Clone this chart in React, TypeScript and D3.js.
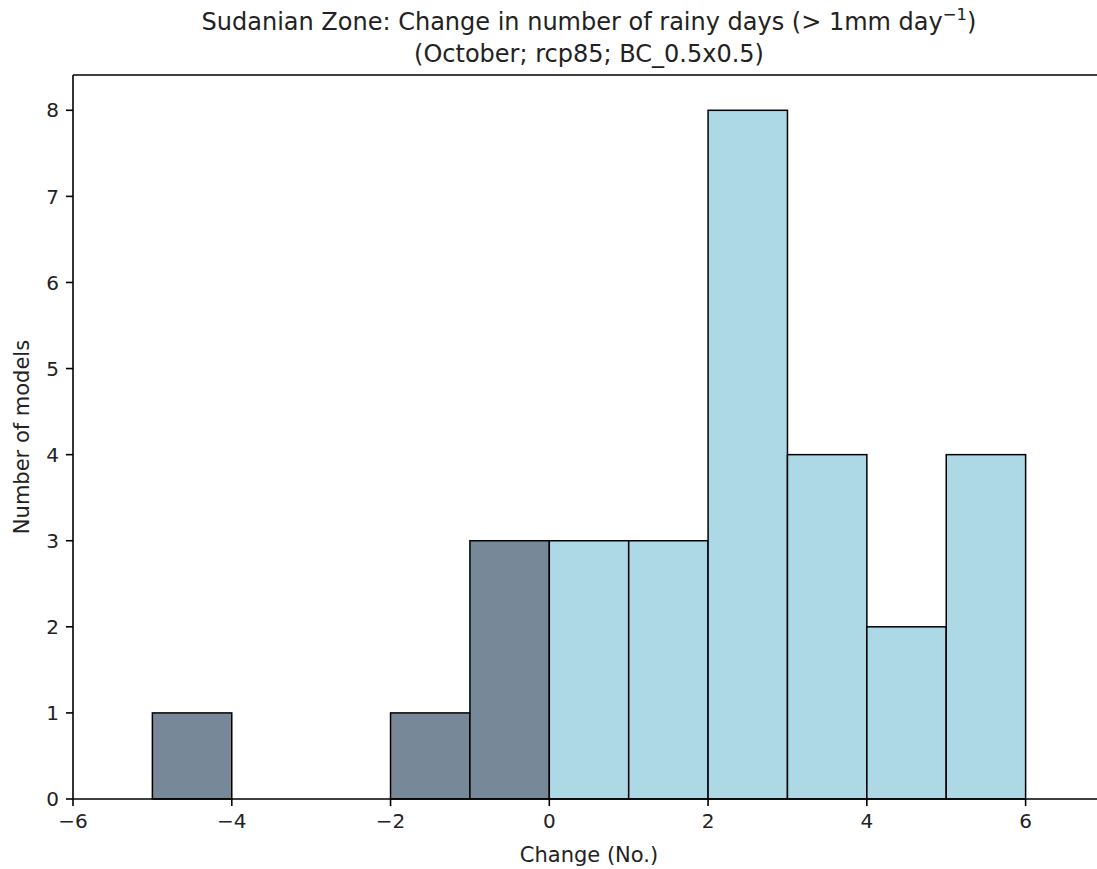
import React from "react";
import * as d3 from "d3";

const binStarts = [-5, -4, -3, -2, -1, 0, 1, 2, 3, 4, 5];
const counts = [1, 0, 0, 1, 3, 3, 3, 8, 4, 2, 4];
const xTicks = [-6, -4, -2, 0, 2, 4, 6];
const yTicks = [0, 1, 2, 3, 4, 5, 6, 7, 8];
const titleLine1 = "Sudanian Zone: Change in number of rainy days (> 1mm day";
const titleLine2 = "(October; rcp85; BC_0.5x0.5)";
const xLabel = "Change (No.)";
const yLabel = "Number of models";

const W = 1097, H = 869;
const L = 73, R = 1105, T = 75, B = 799;
const FONT = "DejaVu Sans, sans-serif";

export default function App() {
  const x = d3.scaleLinear().domain([-6, 7]).range([L, R]);
  const y = d3.scaleLinear().domain([0, 8.41]).range([B, T]);
  const bars = binStarts.map((s, i) => ({ s, c: counts[i] })).filter(d => d.c > 0);
  return (
    <svg width={W} height={H} style={{ position: "absolute", left: 0, top: 0, background: "#fff" }} fontFamily={FONT}>
      <rect x={0} y={0} width={W} height={H} fill="#fff" />
      {bars.map((d, i) => (
        <rect key={i} x={x(d.s)} y={y(d.c)} width={x(d.s + 1) - x(d.s)} height={y(0) - y(d.c)}
          fill={d.s < 0 ? "#778899" : "#ADD8E6"} stroke="#000" strokeWidth={1.5} />
      ))}
      <line x1={L} x2={L} y1={T} y2={B} stroke="#000" strokeWidth={1.6} />
      <line x1={L} x2={R} y1={T} y2={T} stroke="#000" strokeWidth={1.6} />
      <line x1={R} x2={R} y1={T} y2={B} stroke="#000" strokeWidth={1.6} />
      <line x1={L} x2={R} y1={B} y2={B} stroke="#000" strokeWidth={1.6} />
      {xTicks.map(t => (
        <g key={t}>
          <line x1={x(t)} x2={x(t)} y1={B} y2={B + 7} stroke="#000" strokeWidth={1.6} />
          <text x={x(t)} y={B + 29} textAnchor="middle" fontSize={20} fill="#222">{t < 0 ? "\u2212" + Math.abs(t) : t}</text>
        </g>
      ))}
      {yTicks.map(t => (
        <g key={t}>
          <line x1={L - 7} x2={L} y1={y(t)} y2={y(t)} stroke="#000" strokeWidth={1.6} />
          <text x={L - 14} y={y(t)} dy="0.36em" textAnchor="end" fontSize={20} fill="#222">{t}</text>
        </g>
      ))}
      <text x={(L + R) / 2} y={862} textAnchor="middle" fontSize={21} fill="#222">{xLabel}</text>
      <text transform={`translate(29,${(T + B) / 2}) rotate(-90)`} textAnchor="middle" fontSize={21} fill="#222">{yLabel}</text>
      <text x={(L + R) / 2} y={30} textAnchor="middle" fontSize={24} fill="#222">
        {titleLine1}
        <tspan dy="-10" fontSize={16.5}>{"\u22121"}</tspan>
        <tspan dy="10">)</tspan>
      </text>
      <text x={(L + R) / 2} y={62} textAnchor="middle" fontSize={24} fill="#222">{titleLine2}</text>
    </svg>
  );
}
